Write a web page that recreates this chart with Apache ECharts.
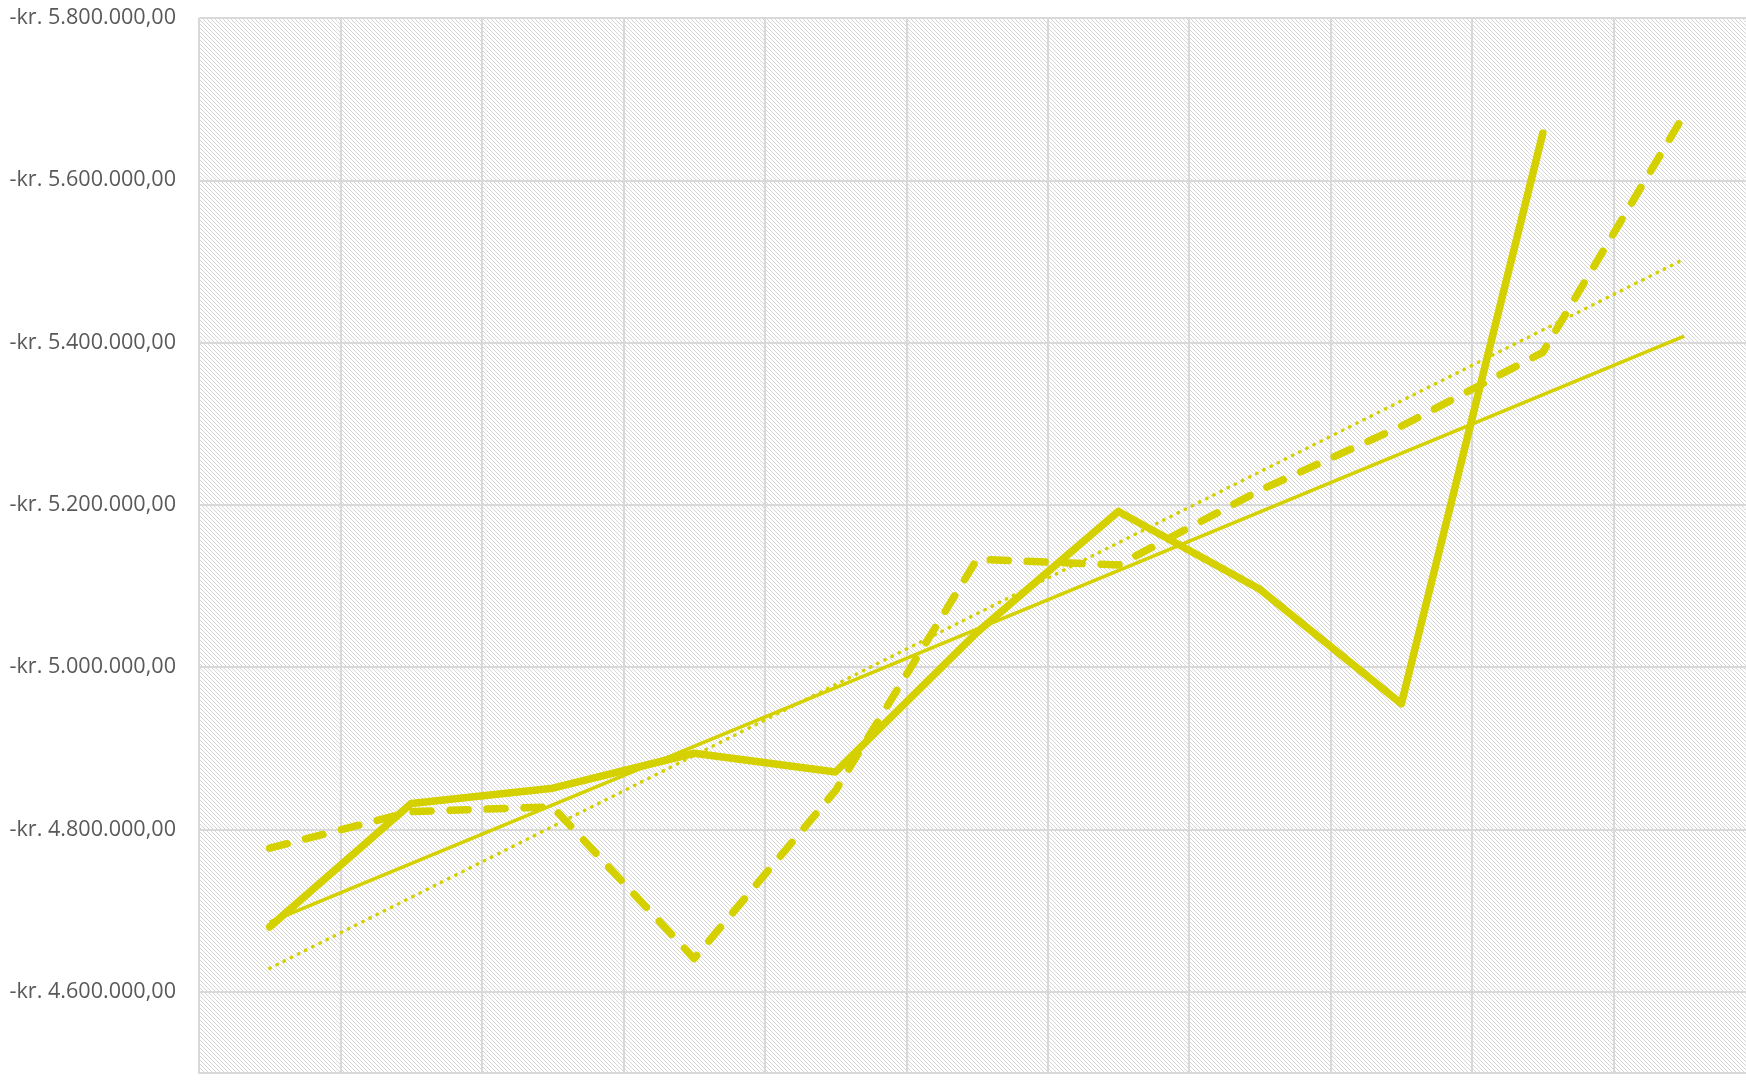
<!DOCTYPE html>
<html>
<head>
<meta charset="utf-8">
<script src="https://cdn.jsdelivr.net/npm/echarts@6/dist/echarts.min.js"></script>
<style>
html,body{margin:0;padding:0;background:#fff;}
#chart{width:1746px;height:1081px;}
</style>
</head>
<body>
<div id="chart"></div>
<script>
// categories (no visible labels in the reference)
const categories = ['1','2','3','4','5','6','7','8','9','10','11'];
// main series (thick solid line)
const solidValues = [-4680000, -4832000, -4851000, -4894000, -4871000, -5043000, -5192000, -5096000, -4955000, -5658000, null];
// second series (thick dashed line)
const dashedValues = [-4777000, -4822000, -4828000, -4641000, -4848000, -5133000, -5126000, -5218000, -5297000, -5388000, -5681000];
// trend lines: start (first category) and end (last category) values
const trendSolidEnds = [-4686000, -5408000];
const trendDottedEnds = [-4629000, -5503000];
// value axis
const yMin = -5800000, yMax = -4500000, yStep = 200000;

const lineColor = '#d5d100';

function fmt(v) {
  const a = Math.round(Math.abs(v));
  const s = a.toString().replace(/\B(?=(\d{3})+(?!\d))/g, '.');
  return (v < 0 ? '-kr. ' : 'kr. ') + s + ',00';
}

// hatch pattern
const pc = document.createElement('canvas');
pc.width = 4; pc.height = 4;
const pctx = pc.getContext('2d');
pctx.fillStyle = '#ffffff';
pctx.fillRect(0, 0, 4, 4);
pctx.fillStyle = '#d6d6d6';
for (let i = 0; i < 4; i++) pctx.fillRect(i, i, 1, 1);

const lastIdx = categories.length - 1;
const chart = echarts.init(document.getElementById('chart'), null, {renderer: 'canvas'});
chart.setOption({
  animation: false,
  backgroundColor: '#ffffff',
  grid: {
    show: true,
    left: 199, top: 18, right: -9, bottom: 8,
    outerBoundsMode: 'none',
    containLabel: false,
    backgroundColor: {image: pc, repeat: 'repeat'},
    borderWidth: 0
  },
  xAxis: {
    type: 'category',
    data: categories,
    boundaryGap: true,
    axisLine: {show: true, lineStyle: {color: '#d9d9d9', width: 2}},
    axisTick: {show: false},
    axisLabel: {show: false},
    splitLine: {show: true, lineStyle: {color: '#d9d9d9', width: 2}}
  },
  yAxis: {
    type: 'value',
    inverse: true,
    min: yMin, max: yMax, interval: yStep,
    axisLine: {show: false},
    axisTick: {show: false},
    axisLabel: {
      showMaxLabel: false,
      formatter: fmt,
      color: '#595959',
      fontFamily: 'Open Sans',
      fontSize: 21.6,
      margin: 23
    },
    splitLine: {show: true, lineStyle: {color: '#d9d9d9', width: 2}}
  },
  series: [
    {
      type: 'line', data: solidValues, symbol: 'none',
      lineStyle: {color: lineColor, width: 7.5, cap: 'round', join: 'round'}, z: 3
    },
    {
      type: 'line', data: dashedValues, symbol: 'none',
      lineStyle: {color: lineColor, width: 7.5, type: [18, 19], cap: 'round', join: 'round'}, z: 3
    },
    {
      type: 'line', data: [[0, trendSolidEnds[0]], [lastIdx, trendSolidEnds[1]]], symbol: 'none',
      lineStyle: {color: lineColor, width: 3.5}, z: 4
    },
    {
      type: 'line', data: [[0, trendDottedEnds[0]], [lastIdx, trendDottedEnds[1]]], symbol: 'none',
      lineStyle: {color: lineColor, width: 3.5, type: [0.5, 7.5], cap: 'round'}, z: 4
    }
  ]
});
</script>
</body>
</html>
